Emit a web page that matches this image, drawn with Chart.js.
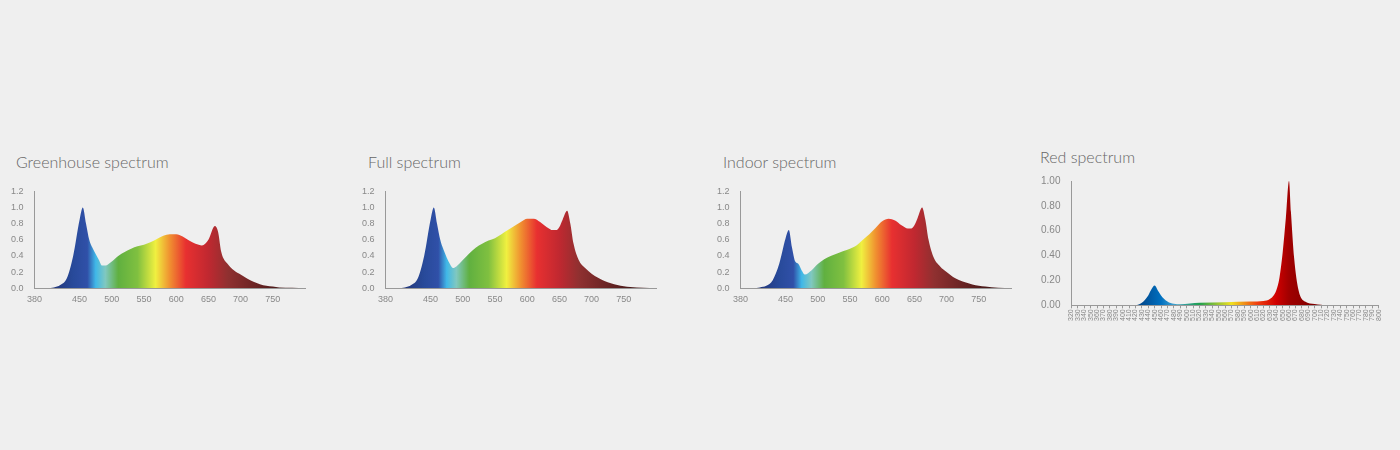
<!DOCTYPE html><html><head><meta charset="utf-8">
<script src="https://cdn.jsdelivr.net/npm/chart.js@4/dist/chart.umd.min.js"></script>
<style>body{margin:0;background:#efefef;width:1400px;height:450px;overflow:hidden;font-family:"Lato","Open Sans",sans-serif}
.t{position:absolute;color:#666;font-size:16px;font-weight:300}
.c{position:absolute}</style></head><body>
<div class="t" style="left:16px;top:152px">Greenhouse spectrum</div>
<div class="t" style="left:368px;top:152px">Full spectrum</div>
<div class="t" style="left:723px;top:152px">Indoor spectrum</div>
<div class="t" style="left:1040px;top:147px">Red spectrum</div>
<div class="c" style="left:8px;top:183px;width:300px;height:125px"><canvas id="c1"></canvas></div>
<div class="c" style="left:359px;top:183px;width:300px;height:125px"><canvas id="c2"></canvas></div>
<div class="c" style="left:714px;top:183px;width:300px;height:125px"><canvas id="c3"></canvas></div>
<div class="c" style="left:1038px;top:172px;width:350px;height:150px"><canvas id="c4"></canvas></div>
<script>
const greenhouseWl=[380,400,410,420,430,440,450,455,460,465,470,480,485,490,500,510,520,530,540,550,560,570,580,590,600,610,620,630,640,650,660,665,670,680,690,700,710,720,730,740,750,760,780,800];
const greenhouseVal=[0,0,0.01,0.04,0.12,0.4,0.85,1.0,0.8,0.6,0.5,0.35,0.28,0.28,0.33,0.4,0.45,0.49,0.52,0.54,0.57,0.61,0.65,0.67,0.67,0.64,0.59,0.55,0.53,0.6,0.77,0.7,0.45,0.3,0.22,0.17,0.12,0.08,0.05,0.03,0.02,0.01,0.005,0];
const fullWl=[380,400,410,420,430,440,450,455,460,465,470,480,485,490,500,510,520,530,540,550,560,570,580,590,600,610,620,630,640,645,650,655,662,667,672,680,690,700,710,720,730,740,750,760,780,800];
const fullVal=[0,0,0.01,0.04,0.12,0.4,0.85,1.0,0.8,0.6,0.48,0.3,0.25,0.27,0.35,0.43,0.5,0.55,0.59,0.62,0.67,0.72,0.77,0.82,0.86,0.86,0.82,0.76,0.72,0.72,0.76,0.85,0.96,0.8,0.55,0.35,0.25,0.18,0.13,0.09,0.06,0.04,0.025,0.015,0.005,0];
const indoorWl=[380,400,410,420,430,440,450,455,460,465,470,475,480,490,500,510,520,530,540,550,560,570,580,590,600,610,620,630,640,645,650,655,662,667,672,680,690,700,710,720,730,740,750,760,780,800];
const indoorVal=[0,0,0.01,0.03,0.1,0.3,0.62,0.72,0.5,0.33,0.3,0.22,0.17,0.22,0.3,0.36,0.4,0.43,0.46,0.49,0.53,0.6,0.67,0.75,0.83,0.86,0.84,0.78,0.74,0.74,0.78,0.87,1.0,0.85,0.6,0.38,0.27,0.2,0.14,0.1,0.07,0.045,0.03,0.02,0.005,0];
const redWl=[320,420,430,440,445,450,455,460,470,480,490,520,560,600,620,630,640,645,650,655,660,663,668,675,685,700,720,800];
const redVal=[0,0,0.02,0.08,0.13,0.16,0.12,0.08,0.03,0.012,0.008,0.02,0.025,0.03,0.035,0.05,0.12,0.22,0.42,0.7,1.0,0.75,0.38,0.12,0.03,0.01,0,0];
const specStops=[[400,'#203070'],[440,'#284a9a'],[462,'#3050a8'],[475,'#40b8e8'],[490,'#80c8c0'],[510,'#60b040'],[540,'#80c040'],[568,'#f0f040'],[590,'#f09030'],[615,'#e83030'],[650,'#c02830'],[680,'#903030'],[760,'#4a1a1a']];
const redStops=[[430,'#004a90'],[460,'#0070c0'],[480,'#40a0d0'],[520,'#20a050'],[570,'#f0e020'],[610,'#f04010'],[640,'#d00000'],[660,'#a00000'],[700,'#800000']];
function grad(stops){return ctx=>{const ch=ctx.chart,a=ch.chartArea;if(!a)return'#888';const xs=ch.scales.x;const g=ch.ctx.createLinearGradient(a.left,0,a.right,0);const w=a.right-a.left;stops.forEach(([n,c])=>{let p=(xs.getPixelForValue(n)-a.left)/w;p=Math.min(1,Math.max(0,p));g.addColorStop(p,c)});return g;}}
const axisC='#999',tickC='#888';
function mk(id,wl,val,stops,red){
 new Chart(document.getElementById(id),{type:'line',data:{datasets:[{data:wl.map((x,i)=>({x,y:val[i]})),fill:'origin',backgroundColor:grad(stops),borderWidth:0,pointRadius:0,tension:0.4,cubicInterpolationMode:'monotone'}]},
 options:{responsive:true,maintainAspectRatio:false,animation:false,plugins:{legend:{display:false},tooltip:{enabled:false}},
 scales:{x:{type:'linear',min:red?320:380,max:800,border:{color:axisC},grid:{display:red,drawOnChartArea:false,tickLength:3,color:axisC},
  ticks:red?{stepSize:10,autoSkip:false,maxRotation:90,minRotation:90,color:tickC,font:{size:7},padding:1}:{stepSize:50,color:tickC,font:{size:9},callback:v=>v<=780?v:''}},
 y:{min:0,max:red?1:1.2,border:{color:axisC},grid:{display:false},ticks:{stepSize:red?0.1:0.2,color:tickC,font:{size:red?10:9},callback:v=>red?v.toFixed(2):v.toFixed(1)}}}}});
}
mk('c1',greenhouseWl,greenhouseVal,specStops,false);
mk('c2',fullWl,fullVal,specStops,false);
mk('c3',indoorWl,indoorVal,specStops,false);
mk('c4',redWl,redVal,redStops,true);
</script></body></html>
